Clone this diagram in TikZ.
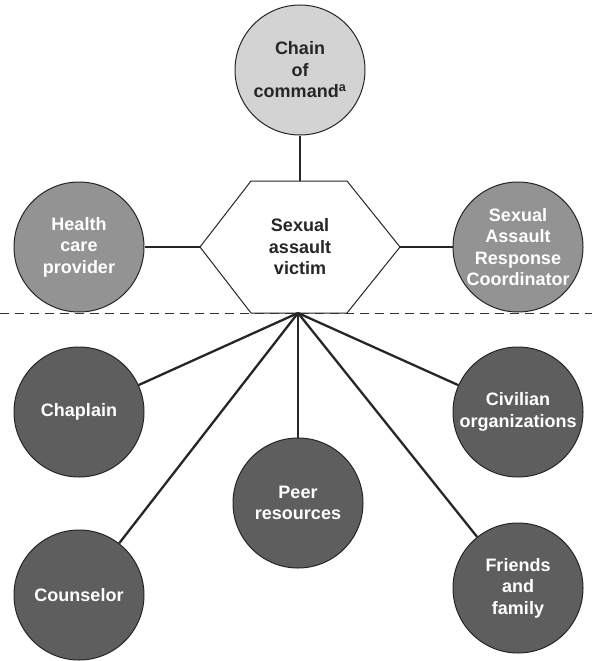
\documentclass[tikz,border=0pt]{standalone}
\usepackage{fontspec}
\setmainfont{Liberation Sans}
\definecolor{lightg}{HTML}{D3D3D3}
\definecolor{midg}{HTML}{939393}
\definecolor{darkg}{HTML}{5E5E5E}
\begin{document}
\begin{tikzpicture}[x=1pt,y=-1pt,
  bubble/.style={circle,draw=black!85,line width=1pt,minimum size=130pt,inner sep=0pt,align=center,
    font=\fontsize{18}{21.5}\selectfont\bfseries},
  toplevel/.style={bubble,fill=lightg,text=black!85},
  sidelevel/.style={bubble,fill=midg,text=white},
  lowlevel/.style={bubble,fill=darkg,text=white},
  link/.style={line width=2.3pt,draw=black!85},
  sep/.style={dashed,dash pattern=on 9pt off 6pt,line width=1pt,draw=black!80}]
\useasboundingbox (0,0) rectangle (592,661);
% hexagon
\coordinate (hl) at (200,247);
\coordinate (htl) at (251,181);
\coordinate (htc) at (300,181);
\coordinate (htr) at (347,181);
\coordinate (hr) at (400,247);
\coordinate (hbr) at (347,313);
\coordinate (hbl) at (251,313);
\coordinate (hub) at (298,313);
\draw[line width=1pt,draw=black!85,fill=white] (hl) -- (htl) -- (htr) -- (hr) -- (hbr) -- (hbl) -- cycle;
\node[font=\fontsize{18}{21.5}\selectfont\bfseries,align=center,text=black!85] (victim) at (300,247) {Sexual\\assault\\victim};
% dashed separator
\coordinate (dl) at (0,313);
\coordinate (dr) at (592,313);
\draw[sep] (dl) -- (dr);
% nodes
\node[toplevel] (chain) at (300,70) {Chain\\of\\command\textsuperscript{a}};
\node[sidelevel] (health) at (79,247) {Health\\care\\provider};
\node[sidelevel] (sarc) at (518,247) {Sexual\\Assault\\Response\\Coordinator};
\node[lowlevel] (chaplain) at (79,412) {Chaplain};
\node[lowlevel] (civil) at (518,412) {Civilian\\organizations};
\node[lowlevel] (peer) at (298,503) {Peer\\resources};
\node[lowlevel] (counsel) at (79,595) {Counselor};
\node[lowlevel] (friends) at (518,588) {Friends\\and\\family};
% connectors
\draw[link] (chain) -- (htc);
\draw[link] (health) -- (hl);
\draw[link] (hr) -- (sarc);
\draw[link] (hub) -- (chaplain);
\draw[link] (hub) -- (counsel);
\draw[link] (hub) -- (peer);
\draw[link] (hub) -- (civil);
\draw[link] (hub) -- (friends);
\end{tikzpicture}
\end{document}
